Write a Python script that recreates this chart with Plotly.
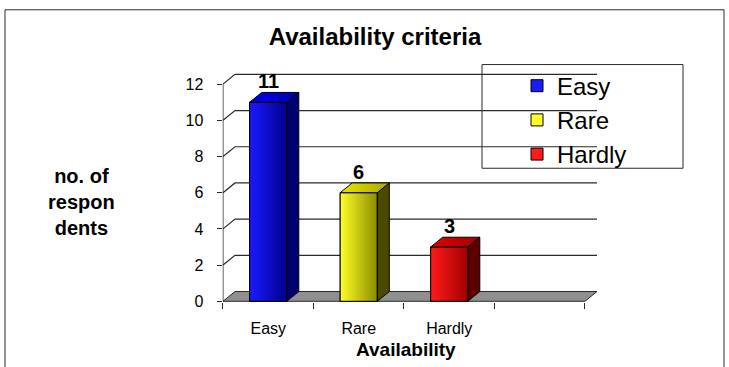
import plotly.graph_objects as go

# ---- data ----
categories = ["Easy", "Rare", "Hardly"]
respondents = [11, 6, 3]
y_ticks = [0, 2, 4, 6, 8, 10, 12]
n_slots = 4  # three categories plus one empty slot on the right

# face colours per series
front_light = ["#1a1aff", "#ffff26", "#ff1a1a"]
front_dark = ["#00008c", "#8c8c00", "#a30000"]
top_light = ["#0000f0", "#e6e600", "#e00000"]
top_dark = ["#0000b0", "#a8a800", "#a00000"]
side_colors = ["#000070", "#4a4a00", "#5c0000"]

# ---- geometry of the pseudo-3D frame ----
W, H = 729, 367
X_LEFT_PX = 223.0      # pixel position of the left axis
SLOT_PX = 90.5         # pixels per category slot
Y_ZERO_PX = 308.0      # pixel position of value 0 (front edge)
UNIT_PX = 18.5         # pixels per unit of value
DX = 12.0 / SLOT_PX    # depth offset along x (data units)
DY = 10.0 / UNIT_PX    # depth offset along y (data units)
BAR_W = 0.41

x_lo = -0.5 - 0.005
x_hi = -0.5 + (601 - X_LEFT_PX) / SLOT_PX
y_lo = -0.04
y_top_px = 68.0
y_hi = (Y_ZERO_PX - y_top_px) / UNIT_PX

def px_x(p):
    return p / W

def px_y(p):
    return 1 - p / H

dom_x = [px_x(X_LEFT_PX + (x_lo + 0.5) * SLOT_PX), px_x(X_LEFT_PX + (x_hi + 0.5) * SLOT_PX)]
dom_y = [px_y(Y_ZERO_PX - y_lo * UNIT_PX), px_y(y_top_px)]

FONT = "Liberation Sans, Arial, sans-serif"
EDGE = "#2b2b2b"

fig = go.Figure()

x_left = -0.5
x_right = n_slots - 0.5

# front faces (legend entries)
for i, (cat, v) in enumerate(zip(categories, respondents)):
    fig.add_trace(go.Bar(
        x=[i], y=[v], width=BAR_W, name=cat,
        marker=dict(color=front_light[i], line=dict(color="#000000", width=1)),
        hoverinfo="skip",
    ))

# shaded faces on top of each column
for i, v in enumerate(respondents):
    x0, x1 = i - BAR_W / 2, i + BAR_W / 2
    # front face with horizontal shading
    fig.add_trace(go.Scatter(
        x=[x0, x1, x1, x0, x0], y=[0, 0, v, v, 0],
        mode="lines", fill="toself",
        fillgradient=dict(type="horizontal",
                          colorscale=[[0, front_light[i]], [1, front_dark[i]]]),
        line=dict(color="#000000", width=1),
        showlegend=False, hoverinfo="skip",
    ))
    # side face
    fig.add_trace(go.Scatter(
        x=[x1, x1 + DX, x1 + DX, x1, x1], y=[0, DY, v + DY, v, 0],
        mode="lines", fill="toself", fillcolor=side_colors[i],
        line=dict(color="#000000", width=1),
        showlegend=False, hoverinfo="skip",
    ))
    # top face
    fig.add_trace(go.Scatter(
        x=[x0, x1, x1 + DX, x0 + DX, x0], y=[v, v, v + DY, v + DY, v],
        mode="lines", fill="toself",
        fillgradient=dict(type="horizontal",
                          colorscale=[[0, top_light[i]], [1, top_dark[i]]]),
        line=dict(color="#000000", width=1),
        showlegend=False, hoverinfo="skip",
    ))

shapes = []
# floor
shapes.append(dict(
    type="path", xref="x", yref="y", layer="below",
    path=f"M {x_left},0 L {x_right},0 L {x_right + DX},{DY} L {x_left + DX},{DY} Z",
    fillcolor="#8f8f8f", line=dict(color=EDGE, width=1),
))
# back-wall gridlines with their diagonal links to the axis
for t in y_ticks[1:]:
    shapes.append(dict(
        type="path", xref="x", yref="y", layer="below",
        path=f"M {x_left},{t} L {x_left + DX},{t + DY} L {x_right + DX},{t + DY}",
        line=dict(color=EDGE, width=1.2),
    ))
# value axis line
shapes.append(dict(
    type="line", xref="x", yref="y", layer="below",
    x0=x_left, x1=x_left, y0=0, y1=max(y_ticks),
    line=dict(color=EDGE, width=1),
))
# legend frame
shapes.append(dict(
    type="rect", xref="paper", yref="paper",
    x0=px_x(482), x1=px_x(683), y0=px_y(66), y1=px_y(172),
    line=dict(color=EDGE, width=1), fillcolor="rgba(0,0,0,0)",
))
# outer chart frame
shapes.append(dict(
    type="rect", xref="paper", yref="paper",
    x0=px_x(5), x1=px_x(724), y0=px_y(10), y1=px_y(380),
    line=dict(color=EDGE, width=1), fillcolor="rgba(0,0,0,0)",
))

annotations = []
for i, v in enumerate(respondents):
    annotations.append(dict(
        x=i, y=v + DY, xref="x", yref="y", text=str(v), showarrow=False,
        yanchor="bottom", yshift=-2,
        font=dict(family=FONT, size=20, color="#000000", weight="bold"),
    ))
annotations.append(dict(
    x=px_x(81), y=px_y(206), xref="paper", yref="paper",
    text="no. of<br>respon<br>dents", showarrow=False,
    xanchor="center", yanchor="middle", align="center",
    font=dict(family=FONT, size=20, color="#000000", weight="bold"),
))
annotations.append(dict(
    x=px_x(406), y=px_y(357), xref="paper", yref="paper",
    text="Availability", showarrow=False,
    xanchor="center", yanchor="middle",
    font=dict(family=FONT, size=19, color="#000000", weight="bold"),
))

fig.update_layout(
    width=W, height=H,
    margin=dict(l=0, r=0, t=0, b=0),
    paper_bgcolor="white", plot_bgcolor="rgba(0,0,0,0)",
    barmode="overlay",
    showlegend=True,
    title=dict(text="Availability criteria", x=px_x(375), y=px_y(37),
               xref="paper", yref="paper", xanchor="center", yanchor="middle",
               font=dict(family=FONT, size=24, color="#000000", weight="bold")),
    legend=dict(x=px_x(517), y=px_y(65), xanchor="left", yanchor="top",
                bgcolor="rgba(0,0,0,0)", borderwidth=0,
                font=dict(family=FONT, size=24, color="#000000"),
                itemclick=False, itemdoubleclick=False),
    xaxis=dict(domain=dom_x, range=[x_lo, x_hi], showgrid=False, zeroline=False,
               showline=False, tickmode="array",
               tickvals=list(range(len(categories))), ticktext=categories,
               ticks="", ticklabelstandoff=15,
               tickfont=dict(family=FONT, size=16, color="#000000"),
               minor=dict(ticks="outside", ticklen=6, tickcolor=EDGE,
                          tick0=-0.5, dtick=1, showgrid=False),
               fixedrange=True),
    yaxis=dict(domain=dom_y, range=[y_lo, y_hi], showgrid=False, zeroline=False,
               showline=False, tickmode="array", tickvals=y_ticks,
               ticks="outside", ticklen=5, tickcolor=EDGE, ticklabelstandoff=10,
               tickfont=dict(family=FONT, size=16, color="#000000"),
               fixedrange=True),
    shapes=shapes,
    annotations=annotations,
)

fig.write_html("out.html")
